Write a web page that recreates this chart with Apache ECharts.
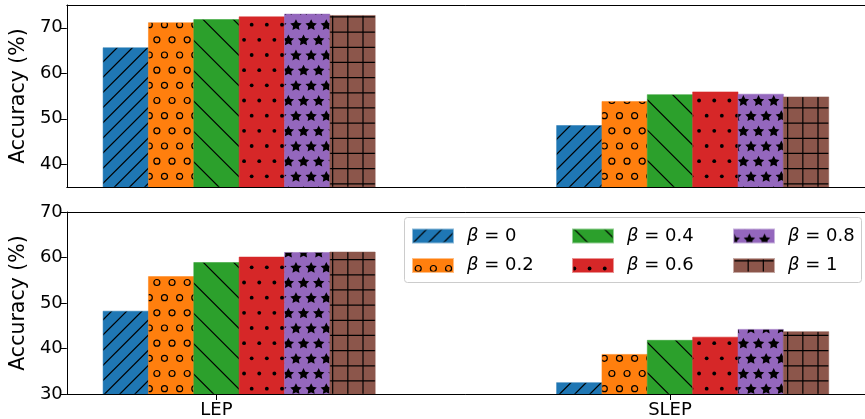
<!DOCTYPE html>
<html>
<head>
<meta charset="utf-8">
<script src="https://cdn.jsdelivr.net/npm/echarts@6/dist/echarts.min.js"></script>
<style>
  html, body { margin: 0; padding: 0; background: #fff; }
  #chart { width: 865px; height: 419px; }
</style>
</head>
<body>
<div id="chart"></div>
<script>
// Categories on the x axis and the six beta settings
const categories = ['LEP', 'SLEP'];
const betaLabels = ['β = 0', 'β = 0.2', 'β = 0.4', 'β = 0.6', 'β = 0.8', 'β = 1'];

// Accuracy (%) per beta setting, upper panel
const upperLEP  = [65.6, 71.1, 71.8, 72.4, 73.0, 72.7];
const upperSLEP = [48.5, 53.8, 55.3, 55.9, 55.4, 54.8];
// Accuracy (%) per beta setting, lower panel
const lowerLEP  = [48.2, 55.8, 58.9, 60.1, 61.1, 61.2];
const lowerSLEP = [32.5, 38.7, 41.8, 42.5, 44.2, 43.7];

// Axis ranges and tick labels
const upperRange = [35, 75];
const lowerRange = [30, 70];
const upperTicks = [40, 50, 60, 70];
const lowerTicks = [30, 40, 50, 60, 70];

const colors = ['#1f77b4', '#ff7f0e', '#2ca02c', '#d62728', '#9467bd', '#8c564b'];
const FONT = 'DejaVu Sans';

// ---------- hatch fills (canvas patterns anchored to the page origin) ----------
const TILE = 91, STEP = TILE / 6;

function tile(color, draw) {
  const c = document.createElement('canvas');
  c.width = TILE; c.height = TILE;
  const g = c.getContext('2d');
  g.fillStyle = color;
  g.fillRect(0, 0, TILE, TILE);
  g.strokeStyle = '#000';
  g.fillStyle = '#000';
  g.lineWidth = 1.2;
  draw(g);
  return { image: c, repeat: 'repeat' };
}
function line(g, x1, y1, x2, y2) {
  g.beginPath(); g.moveTo(x1, y1); g.lineTo(x2, y2); g.stroke();
}
// staggered rows of shapes, like matplotlib's 'o', '.', '*' hatches
function staggered(g, phaseA, phaseB, shape) {
  for (let k = 0; k < 6; k++) {
    const y = 9.5 + k * STEP;
    const px = (k % 2 === 0) ? phaseB : phaseA;
    for (let j = -1; j <= 7; j++) {
      for (const dy of [-TILE, 0, TILE]) shape(g, px + j * STEP, y + dy);
    }
  }
}
function ring(g, x, y) { g.beginPath(); g.arc(x, y, 3.0, 0, Math.PI * 2); g.stroke(); }
function dot(g, x, y) { g.beginPath(); g.arc(x, y, 1.9, 0, Math.PI * 2); g.fill(); }
function star(g, x, y) {
  const R = 6.0, r = R * 0.5;
  g.beginPath();
  for (let i = 0; i < 10; i++) {
    const a = -Math.PI / 2 + i * Math.PI / 5;
    const rad = i % 2 === 0 ? R : r;
    const px = x + rad * Math.cos(a), py = y + 0.6 + rad * Math.sin(a);
    i === 0 ? g.moveTo(px, py) : g.lineTo(px, py);
  }
  g.closePath(); g.fill();
}

const fills = [
  tile(colors[0], g => {           // '/'
    for (let k = -3; k <= 16; k++) {
      const c = 13.3 + k * STEP;
      line(g, -20, c + 20, TILE + 20, c - TILE - 20);
    }
  }),
  tile(colors[1], g => staggered(g, 12.8, 5.2, ring)),   // 'o'
  tile(colors[2], g => {           // '\'
    for (let k = -5; k <= 5; k++) {
      const c = -1.6 + k * 2 * STEP;
      line(g, -20, c - 20, TILE + 20, c + TILE + 20);
    }
  }),
  tile(colors[3], g => staggered(g, 9.0, 1.4, dot)),     // '.'
  tile(colors[4], g => staggered(g, 7.8, 0.2, star)),    // '*'
  tile(colors[5], g => {           // '+'
    for (let k = -1; k <= 7; k++) {
      const y = 1.8 + k * STEP, x = -1 + k * STEP;
      line(g, -5, y, TILE + 5, y);
      line(g, x, -5, x, TILE + 5);
    }
  })
];

function edge(hex) {
  const n = parseInt(hex.slice(1), 16);
  return 'rgba(' + (n >> 16) + ',' + ((n >> 8) & 255) + ',' + (n & 255) + ',0.5)';
}

// ---------- bars: grouped around each category, width 0.1 axis units ----------
const BAR_W = 0.1;
function barSeries(panel, i, values) {
  return {
    type: 'custom',
    name: betaLabels[i],
    xAxisIndex: panel,
    yAxisIndex: panel,
    clip: true,
    itemStyle: { color: fills[i], borderColor: edge(colors[i]), borderWidth: 1 },
    data: values.map((v, ci) => [ci, v]),
    renderItem(params, api) {
      const x = api.value(0) + (i - 2) * BAR_W;
      const top = api.coord([x - BAR_W / 2, api.value(1)]);
      const right = api.coord([x + BAR_W / 2, api.value(1)]);
      const base = params.coordSys.y + params.coordSys.height;
      return {
        type: 'rect',
        shape: { x: top[0], y: top[1], width: right[0] - top[0], height: base - top[1] },
        style: { fill: fills[i], stroke: edge(colors[i]), lineWidth: 1 }
      };
    }
  };
}

const series = [];
for (let i = 0; i < 6; i++) series.push(barSeries(0, i, [upperLEP[i], upperSLEP[i]]));
for (let i = 0; i < 6; i++) series.push(barSeries(1, i, [lowerLEP[i], lowerSLEP[i]]));

// ---------- axes ----------
const X_MIN = -0.33, X_MAX = 1.43;
function xAxis(grid, withLabels) {
  return {
    type: 'value', gridIndex: grid, min: X_MIN, max: X_MAX,
    splitLine: { show: false },
    axisLine: { onZero: false, lineStyle: { color: '#000', width: 1 } },
    axisTick: { show: withLabels, customValues: [0, 1], length: 6, lineStyle: { color: '#000' } },
    axisLabel: {
      show: withLabels, customValues: [0, 1], margin: 7,
      formatter: v => categories[Math.round(v)],
      fontFamily: FONT, fontSize: 18, color: '#000'
    }
  };
}
function topSpine(grid) {
  return {
    type: 'value', gridIndex: grid, position: 'top', min: X_MIN, max: X_MAX,
    splitLine: { show: false },
    axisLine: { onZero: false, lineStyle: { color: '#000', width: 1 } },
    axisTick: { show: false }, axisLabel: { show: false }
  };
}
function yAxis(grid, range, ticks) {
  return {
    type: 'value', gridIndex: grid, min: range[0], max: range[1],
    position: 'left',
    name: 'Accuracy (%)', nameLocation: 'middle', nameGap: 29,
    nameTextStyle: { fontFamily: FONT, fontSize: 20.5, color: '#000' },
    splitLine: { show: false },
    axisLine: { show: true, onZero: false, lineStyle: { color: '#000', width: 1 } },
    axisTick: { show: true, customValues: ticks, length: 6, lineStyle: { color: '#000' } },
    axisLabel: {
      customValues: ticks, margin: 4,
      fontFamily: FONT, fontSize: 18, color: '#000'
    }
  };
}

// ---------- legend: three columns by two rows, inside a framed box ----------
const legendCols = [412, 572, 733];
const legendRowsTop = [227, 256.5];
function legendItem(i) {
  const col = Math.floor(i / 2), row = i % 2;
  return {
    left: legendCols[col], top: legendRowsTop[row], padding: 0,
    icon: 'rect', itemWidth: 40, itemHeight: 13,
    selectedMode: false,
    data: [betaLabels[i]],
    formatter: name => '{i|β}' + name.slice(1),
    textStyle: {
      fontFamily: FONT, fontSize: 18, color: '#000',
      padding: [0, 0, 0, 9],
      rich: { i: { fontFamily: FONT, fontSize: 18, fontStyle: 'italic', color: '#000' } }
    }
  };
}

const chart = echarts.init(document.getElementById('chart'), null, { renderer: 'canvas' });

chart.setOption({
  animation: false,
  backgroundColor: '#fff',
  grid: [
    { left: 65, right: -1, top: 5, height: 182 },
    { left: 65, right: -1, top: 212, height: 182 }
  ],
  xAxis: [xAxis(0, false), xAxis(1, true), topSpine(0), topSpine(1)],
  yAxis: [yAxis(0, upperRange, upperTicks), yAxis(1, lowerRange, lowerTicks)],
  graphic: [{
    type: 'rect', z: 3, silent: true,
    shape: { x: 404.5, y: 217.5, width: 457, height: 65, r: 3 },
    style: { fill: 'rgba(255,255,255,0.8)', stroke: '#cccccc', lineWidth: 1 }
  }],
  legend: betaLabels.map((_, i) => legendItem(i)),
  series: series
});
</script>
</body>
</html>
